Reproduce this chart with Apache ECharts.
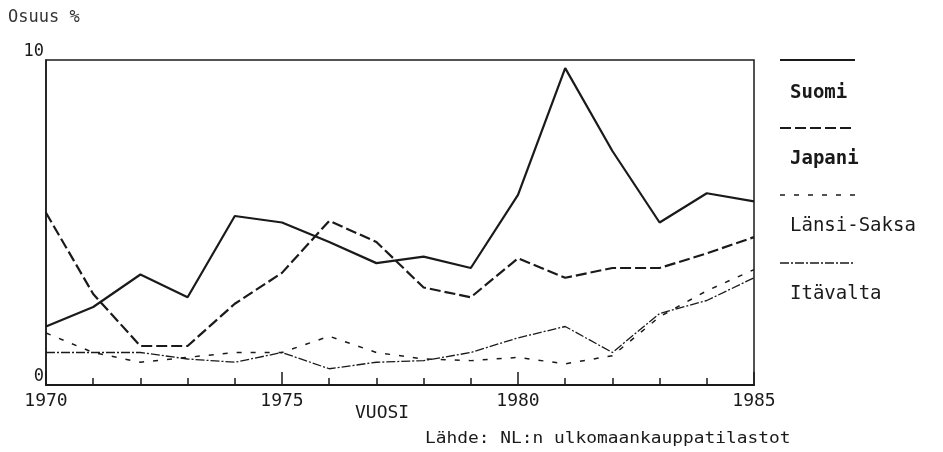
<!DOCTYPE html>
<html>
<head>
<meta charset="utf-8">
<script src="https://cdn.jsdelivr.net/npm/echarts@6/dist/echarts.min.js"></script>
<style>
  html, body { margin: 0; padding: 0; background: #fff; }
  #chart { width: 943px; height: 452px; }
</style>
</head>
<body>
<div id="chart"></div>
<script>
// Share of trade (%) by year
const years = [1970, 1971, 1972, 1973, 1974, 1975, 1976, 1977, 1978, 1979, 1980, 1981, 1982, 1983, 1984, 1985];
const suomi      = [1.8, 2.4, 3.4, 2.7, 5.2, 5.0, 4.4, 3.75, 3.95, 3.6, 5.85, 9.75, 7.2, 5.0, 5.9, 5.65];
const japani     = [5.3, 2.8, 1.2, 1.2, 2.5, 3.45, 5.05, 4.4, 3.0, 2.7, 3.9, 3.3, 3.6, 3.6, 4.05, 4.55];
const lansiSaksa = [1.6, 1.0, 0.7, 0.85, 1.0, 1.0, 1.5, 1.0, 0.8, 0.75, 0.85, 0.65, 0.9, 2.1, 2.9, 3.55];
const itavalta   = [1.0, 1.0, 1.0, 0.8, 0.7, 1.0, 0.5, 0.7, 0.75, 1.0, 1.45, 1.8, 1.0, 2.2, 2.6, 3.3];
const yearLabels = [1970, 1975, 1980, 1985];

const FONT = '"DejaVu Sans Mono", monospace';
const INK = '#1a1a1a';

const pairs = vals => years.map((y, i) => [y, vals[i]]);

const chart = echarts.init(document.getElementById('chart'), null, { renderer: 'canvas' });

const legendItems = [
  { name: 'Suomi',       y: 60,  ty: 95,  dash: null,          width: 2.2, bold: true },
  { name: 'Japani',      y: 128, ty: 161, dash: [11, 4],       width: 2.2, bold: true },
  { name: 'Länsi-Saksa', y: 195, ty: 228, dash: [5, 9],        width: 1.5, bold: false },
  { name: 'Itävalta',    y: 263, ty: 296, dash: [9, 2, 2, 2],  width: 1.3, bold: false }
];

const graphics = [
  { type: 'text', left: 8, top: 9, style: { text: 'Osuus %', font: '17px ' + FONT, fill: '#333' } },
  { type: 'text', left: 355, top: 404, style: { text: 'VUOSI', font: '18px ' + FONT, fill: INK } },
  { type: 'text', x: 425, y: 432, scaleX: 1.19, style: { text: 'Lähde: NL:n ulkomaankauppatilastot', font: '15px ' + FONT, fill: INK } }
];
legendItems.forEach(it => {
  graphics.push({
    type: 'line',
    shape: { x1: 780, y1: it.y, x2: 855, y2: it.y },
    style: { stroke: INK, lineWidth: it.width, lineDash: it.dash || null }
  });
  graphics.push({
    type: 'text', left: 790, top: it.ty - 11,
    style: { text: it.name, font: (it.bold ? 'bold ' : '') + '19px ' + FONT, fill: INK }
  });
});

const lineSeries = (name, vals, width, dash) => ({
  name, type: 'line', data: pairs(vals), symbol: 'none', smooth: false,
  lineStyle: { color: INK, width, type: dash || 'solid' },
  animation: false
});

chart.setOption({
  backgroundColor: '#fff',
  animation: false,
  grid: { left: 46, right: 189, top: 60, bottom: 67, show: true, borderColor: INK, borderWidth: 1.5 },
  xAxis: {
    type: 'value', min: 1970, max: 1985, interval: 5,
    axisLine: { show: true, lineStyle: { color: INK, width: 2 } },
    axisTick: { show: true, inside: true, length: 13, lineStyle: { color: INK, width: 1.5 } },
    minorTick: { show: true, splitNumber: 5, length: 7, lineStyle: { color: INK, width: 1.5 } },
    splitLine: { show: false },
    axisLabel: {
      margin: 7, color: INK, fontFamily: FONT, fontSize: 18,
      formatter: v => (yearLabels.includes(v) ? String(v) : '')
    }
  },
  yAxis: {
    type: 'value', min: 0, max: 10, interval: 10,
    axisLine: { show: true, lineStyle: { color: INK, width: 1.5 } },
    axisTick: { show: false },
    splitLine: { show: false },
    axisLabel: { margin: 2, color: INK, fontFamily: FONT, fontSize: 17, verticalAlign: 'bottom' }
  },
  series: [
    lineSeries('Suomi', suomi, 2.2, null),
    lineSeries('Japani', japani, 2.2, [11, 4]),
    lineSeries('Länsi-Saksa', lansiSaksa, 1.5, [5, 9]),
    lineSeries('Itävalta', itavalta, 1.3, [9, 2, 2, 2])
  ],
  graphic: graphics
});
</script>
</body>
</html>
